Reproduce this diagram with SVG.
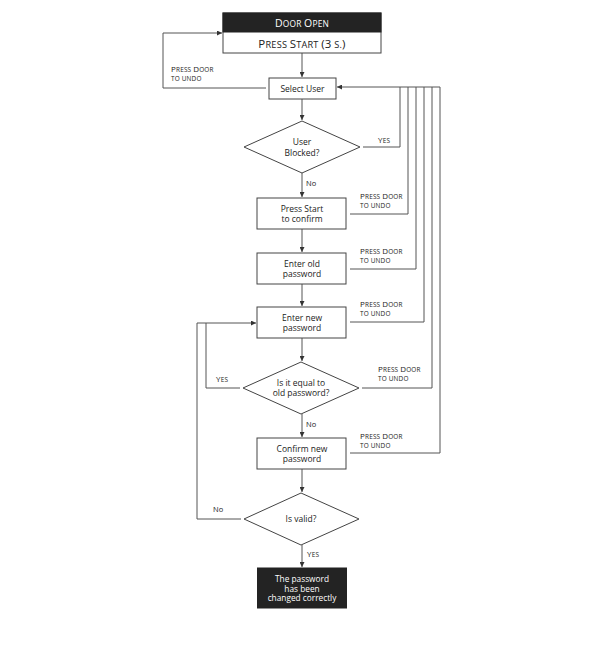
<svg xmlns="http://www.w3.org/2000/svg" width="600" height="649" viewBox="0 0 600 649">
<defs>
<marker id="ah" viewBox="0 0 6 6" refX="6" refY="3" markerWidth="5" markerHeight="5" orient="auto" markerUnits="userSpaceOnUse">
<path d="M0,0 L6,3 L0,6 Z" fill="#333"/>
</marker>
<style>
.box{fill:#fff;stroke:#444;stroke-width:1}
.dark{fill:#232323;stroke:#232323;stroke-width:1}
.ln{fill:none;stroke:#555;stroke-width:1}
.t{font-family:"Open Sans","DejaVu Sans",sans-serif;font-size:8.5px;fill:#222;text-anchor:middle}
.tw{font-family:"Open Sans","DejaVu Sans",sans-serif;font-size:8.3px;fill:#fff;text-anchor:middle}
.sc{font-family:"Open Sans","DejaVu Sans",sans-serif;font-size:6.4px;fill:#222;letter-spacing:0.2px}
.sc .c{font-size:8px}
.lb{font-family:"Open Sans","DejaVu Sans",sans-serif;font-size:7.5px;fill:#222}
.h1{font-size:8.4px}
.h1 .c{font-size:10.5px}
.h2{font-size:9.2px;fill:#222}
.h2 .c{font-size:11.5px}
</style>
</defs>
<rect width="600" height="649" fill="#fff"/>
<g id="connectors">
<path class="ln" d="M302,53 V77" marker-end="url(#ah)"/>
<path class="ln" d="M302,99 V120" marker-end="url(#ah)"/>
<path class="ln" d="M302,173 V197" marker-end="url(#ah)"/>
<path class="ln" d="M302,229 V252" marker-end="url(#ah)"/>
<path class="ln" d="M302,284 V306" marker-end="url(#ah)"/>
<path class="ln" d="M302,338 V361" marker-end="url(#ah)"/>
<path class="ln" d="M302,414 V437" marker-end="url(#ah)"/>
<path class="ln" d="M302,469 V492" marker-end="url(#ah)"/>
<path class="ln" d="M302,545 V567" marker-end="url(#ah)"/>
<path class="ln" d="M266,88 H163 V33 H222" marker-end="url(#ah)"/>
<path class="ln" d="M440,87 H337" marker-end="url(#ah)"/>
<path class="ln" d="M363,147 H400 V87"/>
<path class="ln" d="M350,214 H408 V87"/>
<path class="ln" d="M350,269 H416 V87"/>
<path class="ln" d="M350,322 H424 V87"/>
<path class="ln" d="M362,388 H432 V87"/>
<path class="ln" d="M350,453 H440 V87"/>
<path class="ln" d="M240,388 H206 V323 H256" marker-end="url(#ah)"/>
<path class="ln" d="M241,519 H197 V323 H206"/>
<text class="sc" x="171" y="72"><tspan class="c">P</tspan>RESS <tspan class="c">D</tspan>OOR</text>
<text class="sc" x="171" y="81">TO UNDO</text>
<text class="sc" x="378" y="143"><tspan class="c">Y</tspan>ES</text>
<text class="lb" x="306" y="186">No</text>
<text class="sc" x="360" y="199"><tspan class="c">P</tspan>RESS <tspan class="c">D</tspan>OOR</text>
<text class="sc" x="360" y="208">TO UNDO</text>
<text class="sc" x="360" y="254"><tspan class="c">P</tspan>RESS <tspan class="c">D</tspan>OOR</text>
<text class="sc" x="360" y="263">TO UNDO</text>
<text class="sc" x="360" y="307"><tspan class="c">P</tspan>RESS <tspan class="c">D</tspan>OOR</text>
<text class="sc" x="360" y="316">TO UNDO</text>
<text class="sc" x="378" y="372"><tspan class="c">P</tspan>RESS <tspan class="c">D</tspan>OOR</text>
<text class="sc" x="378" y="381">TO UNDO</text>
<text class="sc" x="216" y="382"><tspan class="c">Y</tspan>ES</text>
<text class="lb" x="306" y="427">No</text>
<text class="sc" x="360" y="439"><tspan class="c">P</tspan>RESS <tspan class="c">D</tspan>OOR</text>
<text class="sc" x="360" y="448">TO UNDO</text>
<text class="lb" x="213" y="512">No</text>
<text class="sc" x="307" y="557"><tspan class="c">Y</tspan>ES</text>
</g>
<g id="door-open">
<rect class="box" x="223" y="13" width="158" height="40"/>
<rect class="dark" x="223" y="13" width="158" height="19"/>
<text class="tw h1" x="302" y="26.5" style="letter-spacing:0.2px"><tspan class="c">D</tspan>OOR <tspan class="c">O</tspan>PEN</text>
<text class="t h2" x="302" y="47.5" style="letter-spacing:0.2px"><tspan class="c">P</tspan>RESS <tspan class="c">S</tspan>TART <tspan class="c">(3</tspan> S.<tspan class="c">)</tspan></text>
</g>
<g id="select-user">
<rect class="box" x="269" y="78" width="67" height="21"/>
<text class="t" x="302.5" y="91.5">Select User</text>
</g>
<g id="user-blocked">
<polygon class="box" points="302,121 360,147 302,173 244,147"/>
<text class="t" x="302" y="145">User</text>
<text class="t" x="302" y="155.5">Blocked?</text>
</g>
<g id="press-start-confirm">
<rect class="box" x="257" y="198" width="89" height="31"/>
<text class="t" x="302" y="212">Press Start</text>
<text class="t" x="302" y="222">to confirm</text>
</g>
<g id="enter-old">
<rect class="box" x="257" y="253" width="89" height="31"/>
<text class="t" x="302" y="267">Enter old</text>
<text class="t" x="302" y="277">password</text>
</g>
<g id="enter-new">
<rect class="box" x="257" y="307" width="89" height="31"/>
<text class="t" x="302" y="321">Enter new</text>
<text class="t" x="302" y="331">password</text>
</g>
<g id="equal-old">
<polygon class="box" points="301,362 359,388 301,414 243,388"/>
<text class="t" x="301" y="385.5">Is it equal to</text>
<text class="t" x="301" y="395.5">old password?</text>
</g>
<g id="confirm-new">
<rect class="box" x="257" y="438" width="89" height="31"/>
<text class="t" x="302" y="452">Confirm new</text>
<text class="t" x="302" y="462">password</text>
</g>
<g id="is-valid">
<polygon class="box" points="301,493 359,519 301,545 244,519"/>
<text class="t" x="301" y="522">Is valid?</text>
</g>
<g id="changed">
<rect class="dark" x="257.5" y="568" width="89" height="40"/>
<text class="tw" x="302" y="582">The password</text>
<text class="tw" x="302" y="591.7">has been</text>
<text class="tw" x="302" y="601.4">changed correctly</text>
</g>
</svg>
